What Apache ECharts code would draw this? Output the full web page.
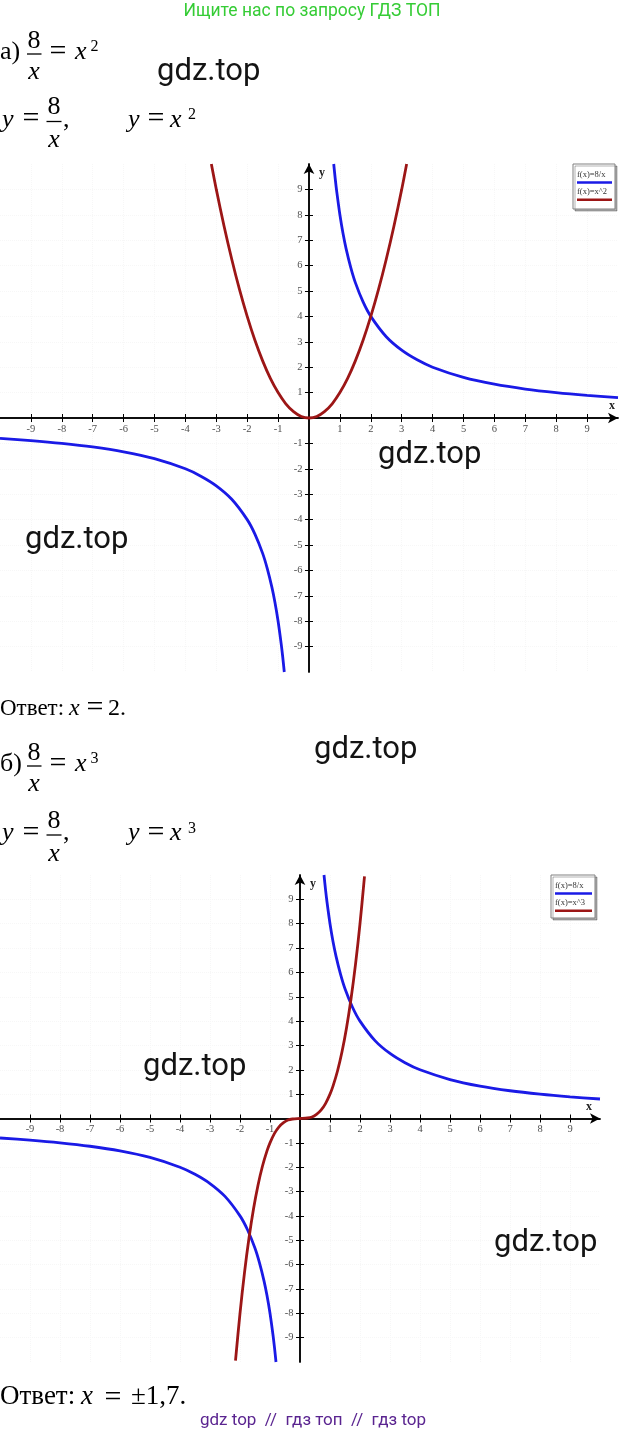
<!DOCTYPE html>
<html><head><meta charset="utf-8">
<script src="https://cdn.jsdelivr.net/npm/echarts@6/dist/echarts.min.js"></script>
<style>html,body{margin:0;padding:0;background:#fff}#c{width:620px;height:1436px}</style>
</head><body><div id="c"></div>
<script>
// ---- data ----
const tickValues = [-9,-8,-7,-6,-5,-4,-3,-2,-1,1,2,3,4,5,6,7,8,9];
const hypPosX = [0.8, 0.85, 0.9, 1, 1.1, 1.2, 1.35, 1.5, 1.75, 2, 2.5, 3, 3.5, 4, 5, 6, 7, 8, 9, 10];
const hypPosY = [10, 9.41, 8.89, 8, 7.27, 6.67, 5.93, 5.33, 4.57, 4, 3.2, 2.67, 2.29, 2, 1.6, 1.33, 1.14, 1, 0.89, 0.8];
const hypNegX = [-10, -9, -8, -7, -6, -5, -4, -3.5, -3, -2.5, -2, -1.75, -1.5, -1.35, -1.2, -1.1, -1, -0.9, -0.85, -0.8];
const hypNegY = [-0.8, -0.89, -1, -1.14, -1.33, -1.6, -2, -2.29, -2.67, -3.2, -4, -4.57, -5.33, -5.93, -6.67, -7.27, -8, -8.89, -9.41, -10];
const parabX = [-3.16, -3, -2.75, -2.5, -2.25, -2, -1.75, -1.5, -1.25, -1, -0.75, -0.5, -0.25, 0, 0.25, 0.5, 0.75, 1, 1.25, 1.5, 1.75, 2, 2.25, 2.5, 2.75, 3, 3.16];
const parabY = [10, 9, 7.56, 6.25, 5.06, 4, 3.06, 2.25, 1.56, 1, 0.56, 0.25, 0.06, 0, 0.06, 0.25, 0.56, 1, 1.56, 2.25, 3.06, 4, 5.06, 6.25, 7.56, 9, 10];
const cubicX = [-2.15, -2, -1.85, -1.7, -1.55, -1.4, -1.25, -1.1, -1, -0.85, -0.7, -0.55, -0.4, -0.25, 0, 0.25, 0.4, 0.55, 0.7, 0.85, 1, 1.1, 1.25, 1.4, 1.55, 1.7, 1.85, 2, 2.15];
const cubicY = [-9.94, -8, -6.33, -4.91, -3.72, -2.74, -1.95, -1.33, -1, -0.61, -0.34, -0.17, -0.06, -0.02, 0, 0.02, 0.06, 0.17, 0.34, 0.61, 1, 1.33, 1.95, 2.74, 3.72, 4.91, 6.33, 8, 9.94];
const legendA = ['f(x)=8/x', 'f(x)=x^2'];
const legendB = ['f(x)=8/x', 'f(x)=x^3'];

const BLUE = '#1a1ae6', RED = '#9c1616';
const serif = "'Liberation Serif', 'Times New Roman', serif";
const sans = "Roboto, 'Liberation Sans', Arial, sans-serif";

const chart = echarts.init(document.getElementById('c'), null, {renderer: 'canvas'});

function zip(xs, ys) { return xs.map((x, i) => [x, ys[i]]); }
function lineSeries(name, xs, ys, color, gi) {
  return {type: 'line', name, xAxisIndex: gi * 2, yAxisIndex: gi * 2, data: zip(xs, ys),
    smooth: 0.3, symbol: 'none', showSymbol: false, clip: true, silent: true,
    lineStyle: {color, width: 2.8}, itemStyle: {color}, z: 3};
}
// tick labels placed on the zero lines through the axes' own scales
function tickLabelSeries(gi, dim) {
  const isX = dim === 'x';
  return {type: 'scatter', xAxisIndex: gi * 2, yAxisIndex: gi * 2, silent: true, z: 4,
    data: tickValues.map(v => isX ? [v, 0] : [0, v]),
    symbol: 'circle', symbolSize: 1, itemStyle: {color: 'rgba(0,0,0,0)'},
    label: {show: true, position: isX ? 'bottom' : 'left', distance: isX ? 5 : 6,
      formatter: p => String(isX ? p.value[0] : p.value[1]),
      fontSize: 10.5, fontFamily: serif, color: '#222'}};
}
function xAx(gi, main) {
  return {type: 'value', gridIndex: gi, position: 'bottom', min: -10, max: 10, interval: 1,
    name: main ? 'x' : '', nameLocation: 'end', nameGap: gi === 0 ? -6 : -11, nameMoveOverlap: false,
    nameTextStyle: {fontFamily: serif, fontWeight: 'bold', fontSize: 12, color: '#222', align: 'center', verticalAlign: 'bottom', lineHeight: 24},
    axisLine: {show: true, onZero: true, symbol: main ? ['none', 'arrow'] : ['none', 'none'], symbolSize: [8, 10], lineStyle: {color: '#000', width: 1.5}},
    axisTick: {show: true, inside: !main, length: 4, customValues: tickValues, lineStyle: {color: '#000', width: 1}},
    axisLabel: {show: false},
    splitLine: {show: main, lineStyle: {color: '#f7f7f7', type: 'dotted', width: 1}},
    axisPointer: {show: false}};
}
function yAx(gi, main) {
  return {type: 'value', gridIndex: gi, position: 'left', min: -10, max: 10, interval: 1,
    name: main ? 'y' : '', nameLocation: 'end', nameGap: -9, nameMoveOverlap: false,
    nameTextStyle: {fontFamily: serif, fontWeight: 'bold', fontSize: 12, color: '#222', align: 'center', verticalAlign: 'middle', padding: [0, 0, 0, 26]},
    axisLine: {show: true, onZero: true, symbol: main ? ['none', 'arrow'] : ['none', 'none'], symbolSize: [8, 10], lineStyle: {color: '#000', width: 1.5}},
    axisTick: {show: true, inside: !main, length: 4, customValues: tickValues, lineStyle: {color: '#000', width: 1}},
    axisLabel: {show: false},
    splitLine: {show: main, lineStyle: {color: '#f7f7f7', type: 'dotted', width: 1}},
    axisPointer: {show: false}};
}

// ---- text helpers (layout only) ----
const MS = 26;
function txt(text, x, baseline, size, o) {
  return {type: 'text', z: 100, silent: true,
    style: Object.assign({text, x, y: baseline - 0.32 * size, fontSize: size, fontFamily: serif,
      fill: '#000', align: 'left', verticalAlign: 'middle'}, o || {})};
}
const IT = {fontStyle: 'italic'};
function eq(cx, cy) { return txt('=', cx, cy + 0.25 * 30, 30, {align: 'center'}); }
function bar(x1, x2, y) { return {type: 'line', z: 100, silent: true, shape: {x1, y1: y, x2, y2: y}, style: {stroke: '#000', lineWidth: 1.3}}; }
function block(label, exp, d1, d2) {
  const B1 = 60 + d1, b1 = 54 + d1, B2 = 128 + d2, b2 = 121.5 + d2;
  return [
    txt(label, 0, B1, MS),
    txt('8', 34, B1 - 10.5, MS, {align: 'center'}),
    bar(27, 41.5, b1),
    txt('x', 34, B1 + 20, MS, Object.assign({align: 'center'}, IT)),
    eq(58, b1),
    txt('x', 75, B1, MS, IT),
    txt(exp, 90.5, B1 - 8, 16),
    txt('y', 2, B2, MS, IT),
    eq(31, b2),
    txt('8', 54, B2 - 12.5, MS, {align: 'center'}),
    bar(46.5, 61.5, b2),
    txt('x', 54, B2 + 20.5, MS, Object.assign({align: 'center'}, IT)),
    txt(',', 63, B2, MS),
    txt('y', 128, B2, MS, IT),
    eq(156, b2),
    txt('x', 170, B2, MS, IT),
    txt(exp, 188, B2 - 8, 16)
  ];
}
function legendBox(x, y, w, h, labels) {
  return [
    {type: 'rect', z: 90, silent: true, shape: {x, y, width: w, height: h},
      style: {fill: '#fff', stroke: '#808080', lineWidth: 1, shadowColor: 'rgba(0,0,0,0.3)', shadowOffsetX: 2, shadowOffsetY: 2, shadowBlur: 0}},
    {type: 'text', z: 100, silent: true, style: {text: labels[0], x: x + 4, y: y + 11, fontSize: 8.5, fontFamily: serif, fill: '#333', align: 'left', verticalAlign: 'middle'}},
    {type: 'line', z: 100, silent: true, shape: {x1: x + 4, y1: y + 18.5, x2: x + w - 3, y2: y + 18.5}, style: {stroke: BLUE, lineWidth: 2.6}},
    {type: 'text', z: 100, silent: true, style: {text: labels[1], x: x + 4, y: y + 28, fontSize: 8.5, fontFamily: serif, fill: '#333', align: 'left', verticalAlign: 'middle'}},
    {type: 'line', z: 100, silent: true, shape: {x1: x + 4, y1: y + 35.8, x2: x + w - 3, y2: y + 35.8}, style: {stroke: RED, lineWidth: 2.6}}
  ];
}
function wm(x, cy) {
  return {type: 'text', z: 110, silent: true, style: {text: 'gdz.top', x, y: cy, fontSize: 31, fontFamily: sans, fill: '#141414', align: 'left', verticalAlign: 'middle'}};
}

const graphics = [].concat(
  [{type: 'text', z: 100, silent: true, style: {text: 'Ищите нас по запросу ГДЗ ТОП', x: 312, y: 12, fontSize: 17.5, fontFamily: sans, fill: '#35cc35', align: 'center', verticalAlign: 'middle'}}],
  block('а)', '2', 0, 0),
  legendBox(573, 164, 42, 45, legendA),
  [txt('Ответ:', 0, 716, 23), txt('x', 69, 716, 24, IT), eq(95, 710), txt('2.', 108, 716, 24)],
  block('б)', '3', 712, 713.5),
  legendBox(551, 875, 44, 43, legendB),
  [txt('Ответ:', 0, 1406, 27), txt('x', 81, 1406, 27, IT), eq(113, 1400), txt('±1,7.', 131, 1406, 27)],
  [{type: 'text', z: 100, silent: true, style: {text: 'gdz top  //  гдз топ  //  гдз top', x: 313, y: 1421, fontSize: 17, fontFamily: sans, fill: '#5a2490', align: 'center', verticalAlign: 'middle'}}],
  [wm(157, 72), wm(378, 455), wm(25, 540), wm(314, 750), wm(143, 1067), wm(494, 1243)]
);

chart.setOption({
  animation: false,
  backgroundColor: '#fff',
  tooltip: {show: false},
  grid: [
    {left: 0, top: 164, width: 618, height: 508, containLabel: false, outerBoundsMode: 'none'},
    {left: 0, top: 875, width: 600, height: 487, containLabel: false, outerBoundsMode: 'none'}
  ],
  xAxis: [xAx(0, true), xAx(0, false), xAx(1, true), xAx(1, false)],
  yAxis: [yAx(0, true), yAx(0, false), yAx(1, true), yAx(1, false)],
  series: [
    lineSeries('f(x)=8/x', hypPosX, hypPosY, BLUE, 0),
    lineSeries('f(x)=8/x', hypNegX, hypNegY, BLUE, 0),
    lineSeries('f(x)=x^2', parabX, parabY, RED, 0),
    lineSeries('f(x)=8/x', hypPosX, hypPosY, BLUE, 1),
    lineSeries('f(x)=8/x', hypNegX, hypNegY, BLUE, 1),
    lineSeries('f(x)=x^3', cubicX, cubicY, RED, 1),
    tickLabelSeries(0, 'x'), tickLabelSeries(0, 'y'),
    tickLabelSeries(1, 'x'), tickLabelSeries(1, 'y')
  ],
  graphic: graphics
});
</script>
</body></html>
